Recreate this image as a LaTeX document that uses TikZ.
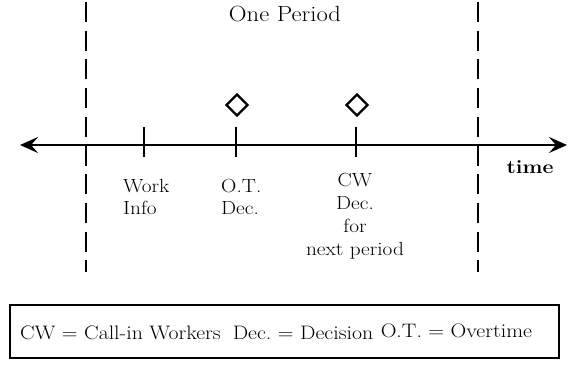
\documentclass[tikz,border=0pt]{standalone}
\usepackage{fontspec}
\setmainfont{Latin Modern Roman}[FakeStretch=1.12]
\usetikzlibrary{arrows.meta,shapes.geometric}
\frenchspacing
\begin{document}
\begin{tikzpicture}[x=1pt,y=-1pt,
  axis/.style={line width=2.6pt,
    {Stealth[length=18pt,width=16pt,inset=7pt]}-{Stealth[length=18pt,width=16pt,inset=7pt]}},
  tickmark/.style={line width=2.2pt},
  periodline/.style={line width=1.9pt, dash pattern=on 20pt off 8.7pt},
  marker/.style={diamond, draw, line width=2.3pt, minimum width=22pt,
    minimum height=22pt, inner sep=0pt, aspect=1},
  lbl/.style={font=\fontsize{19}{22.7}\selectfont, inner sep=0pt},
  title/.style={font=\fontsize{22}{26}\selectfont, inner sep=0pt},
  axislabel/.style={font=\fontsize{19}{23}\selectfont\bfseries, inner sep=0pt},
  legend/.style={draw, line width=2pt, font=\fontsize{19.5}{23}\selectfont,
    text width=529pt, minimum height=53pt, inner xsep=10pt, inner ysep=0pt, align=left}
]
\useasboundingbox (0,0) rectangle (568,365);

% period boundaries
\coordinate (pl-top) at (86,2);
\coordinate (pl-bot) at (86,272);
\coordinate (pr-top) at (478,2);
\coordinate (pr-bot) at (478,272);
\draw[periodline] (pl-top) -- (pl-bot);
\draw[periodline] (pr-top) -- (pr-bot);

\node[title] (period) at (285,14) {One Period};

% time axis
\coordinate (tl-left) at (20,145);
\coordinate (tl-right) at (567,145);
\draw[axis] (tl-left) -- (tl-right);
\node[axislabel, anchor=base] (time) at (530,173) {time};

% events on the axis
\coordinate (work-top) at (144,127);
\coordinate (work-bot) at (144,157);
\coordinate (ot-top) at (236,127);
\coordinate (ot-bot) at (236,157);
\coordinate (cw-top) at (356,127);
\coordinate (cw-bot) at (356,157);
\draw[tickmark] (work-top) -- (work-bot);
\draw[tickmark] (ot-top) -- (ot-bot);
\draw[tickmark] (cw-top) -- (cw-bot);

% decision markers
\node[marker] (ot-dec) at (237,105) {};
\node[marker] (cw-dec) at (357,105) {};

% event labels (placed by the baseline of their last line)
\node[lbl, anchor=base west, align=left] (work-lbl) at (123,214.7) {Work\\Info};
\node[lbl, anchor=base west, align=left] (ot-lbl) at (221,214.7) {O.T.\\Dec.};
\node[lbl, anchor=base, align=center] (cw-lbl) at (355,255) {CW\\Dec.\\for\\next period};

% legend
\node[legend, anchor=north west] (legend) at (9,304)
  {CW = Call-in Workers\hspace{12pt}Dec. = Decision\hspace{1pt} \raisebox{2pt}{O.T. = Overtime}};
\end{tikzpicture}
\end{document}
